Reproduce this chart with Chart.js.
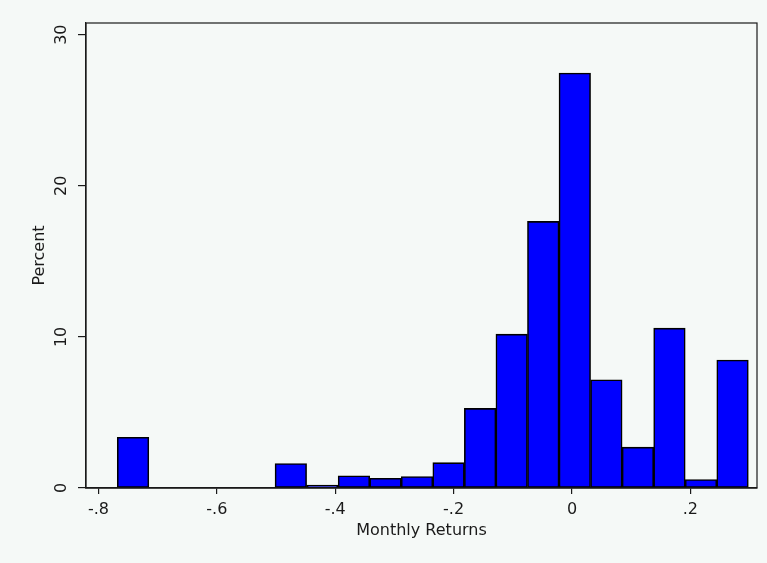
<!DOCTYPE html>
<html>
<head>
<meta charset="utf-8">
<script src="https://cdn.jsdelivr.net/npm/chart.js@4.4.1/dist/chart.umd.min.js"></script>
<style>
  html, body { margin: 0; padding: 0; background: #f5f9f7; }
  #wrap { width: 767px; height: 563px; }
</style>
</head>
<body>
<div id="wrap"><canvas id="histChart" width="767" height="563"></canvas></div>
<script>
// bin centres of the histogram (monthly returns)
var binCenters = [-0.7415, -0.6882, -0.6349, -0.5816, -0.5283, -0.4750, -0.4217, -0.3684, -0.3151, -0.2618,
                  -0.2085, -0.1552, -0.1019, -0.0486, 0.0047, 0.0580, 0.1113, 0.1646, 0.2179, 0.2712];
// percent in each bin
var percents = [3.36, 0, 0, 0, 0, 1.62, 0.19, 0.81, 0.64, 0.76,
                1.68, 5.27, 10.18, 17.64, 27.46, 7.16, 2.7, 10.58, 0.56, 8.47];
var xTicks = [-0.8, -0.6, -0.4, -0.2, 0, 0.2];
var xTickLabels = ['-.8', '-.6', '-.4', '-.2', '0', '.2'];
var yTicks = [0, 10, 20, 30];
var yTickLabels = ['0', '10', '20', '30'];

var FONT = 'DejaVu Sans';
var INK = '#1a1a1a';

// background + plot frame + rotated y tick labels (Stata style)
var stataLook = {
  id: 'stataLook',
  beforeDraw: function (chart) {
    var ctx = chart.ctx;
    ctx.save();
    ctx.fillStyle = '#f5f9f7';
    ctx.fillRect(0, 0, chart.width, chart.height);
    ctx.restore();
  },
  afterDraw: function (chart) {
    var ctx = chart.ctx;
    var a = chart.chartArea;
    ctx.save();
    ctx.strokeStyle = INK;
    ctx.lineWidth = 1.2;
    ctx.strokeRect(a.left, a.top, a.right - a.left, a.bottom - a.top);

    var yScale = chart.scales.y;
    ctx.fillStyle = INK;
    ctx.font = '16px "' + FONT + '"';
    ctx.textAlign = 'center';
    ctx.textBaseline = 'middle';
    yTicks.forEach(function (v, i) {
      var py = yScale.getPixelForValue(v);
      ctx.save();
      ctx.translate(62, py);
      ctx.rotate(-Math.PI / 2);
      ctx.fillText(yTickLabels[i], 0, 0);
      ctx.restore();
    });
    ctx.restore();
  }
};

var ctx = document.getElementById('histChart').getContext('2d');
new Chart(ctx, {
  type: 'bar',
  data: {
    datasets: [{
      label: 'Percent',
      data: binCenters.map(function (x, i) { return { x: x, y: percents[i] }; }),
      backgroundColor: '#0000ff',
      borderColor: '#000000',
      borderWidth: 1.6,
      borderSkipped: false,
      barPercentage: 1,
      categoryPercentage: 1
    }]
  },
  options: {
    responsive: false,
    animation: false,
    layout: { padding: { top: 23, right: 10, left: 0, bottom: 0 } },
    plugins: {
      legend: { display: false },
      tooltip: { enabled: false }
    },
    scales: {
      x: {
        type: 'linear',
        min: -0.821,
        max: 0.3125,
        offset: false,
        afterBuildTicks: function (scale) {
          scale.ticks = xTicks.map(function (v) { return { value: v }; });
        },
        afterFit: function (scale) { scale.height = 75; },
        ticks: {
          autoSkip: false,
          maxRotation: 0,
          color: INK,
          padding: 6,
          font: { family: FONT, size: 16 },
          callback: function (value, index) { return xTickLabels[index]; }
        },
        grid: { display: true, offset: false, drawOnChartArea: false, drawTicks: true, tickLength: 6, color: INK, lineWidth: 1.2 },
        border: { display: true, color: INK, width: 1.6 },
        title: {
          display: true,
          text: 'Monthly Returns',
          color: INK,
          font: { family: FONT, size: 16 },
          padding: { top: 0, bottom: 23 }
        }
      },
      y: {
        type: 'linear',
        min: 0,
        max: 30.77,
        afterBuildTicks: function (scale) {
          scale.ticks = yTicks.map(function (v) { return { value: v }; });
        },
        afterFit: function (scale) { scale.width = 86; },
        ticks: { display: false },
        grid: { display: true, drawOnChartArea: false, drawTicks: true, tickLength: 8, color: INK, lineWidth: 1.2 },
        border: { display: true, color: INK, width: 1.2 },
        title: {
          display: true,
          text: 'Percent',
          color: INK,
          font: { family: FONT, size: 16 },
          padding: { top: 30, bottom: 0 }
        }
      }
    }
  },
  plugins: [stataLook]
});
</script>
</body>
</html>
